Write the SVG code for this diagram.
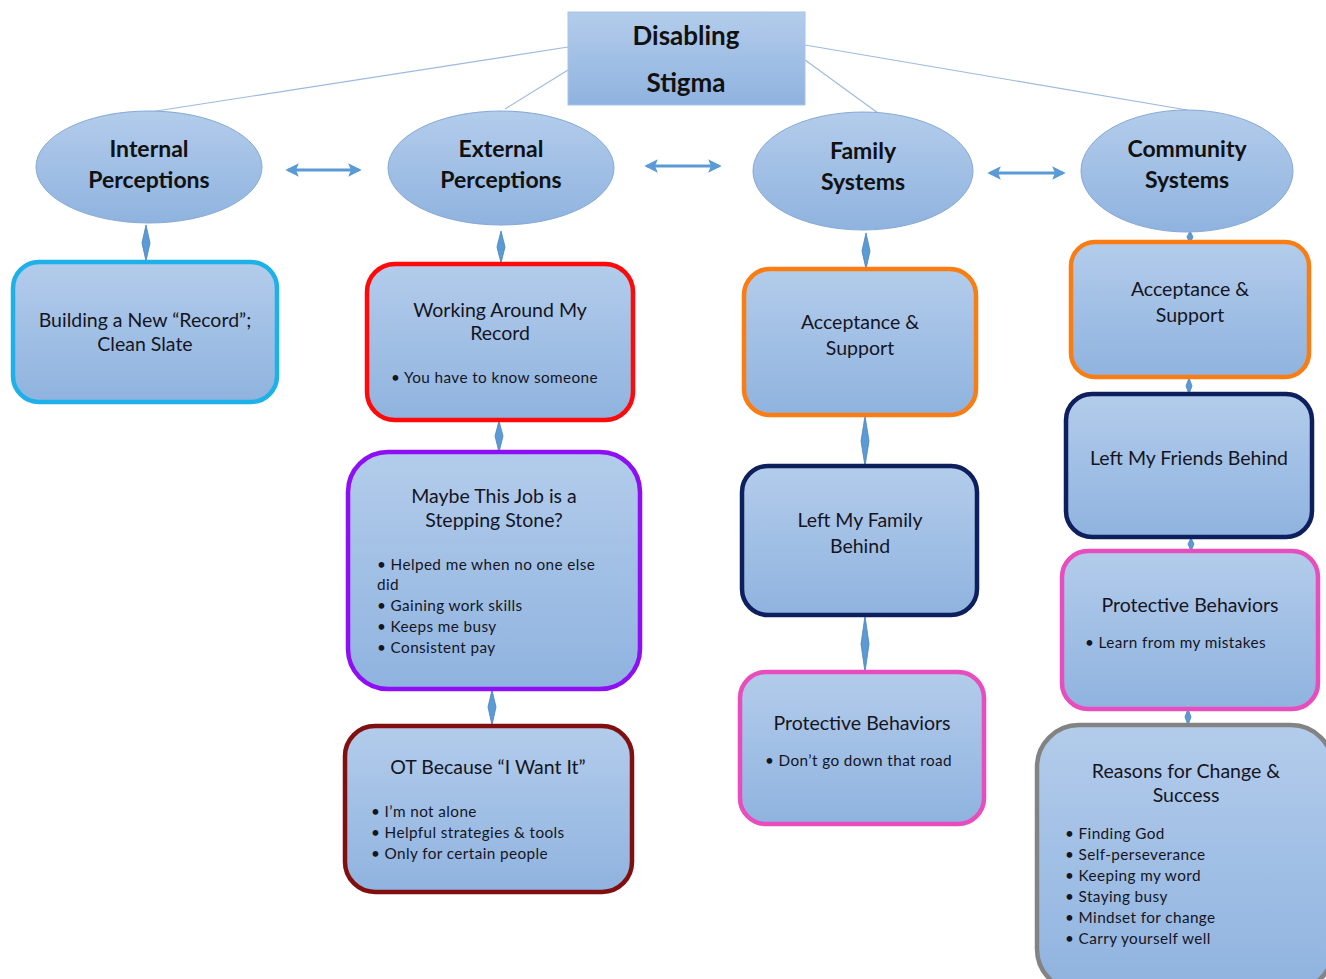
<svg xmlns="http://www.w3.org/2000/svg" width="1326" height="979" viewBox="0 0 1326 979">
<defs>
<linearGradient id="gBox" x1="0" y1="0" x2="0" y2="1">
<stop offset="0" stop-color="#B3CCEB"/>
<stop offset="1" stop-color="#8FB3DF"/>
</linearGradient>
<marker id="ah" viewBox="0 0 10 10" refX="8" refY="5" markerWidth="4.5" markerHeight="4.5" orient="auto-start-reverse" markerUnits="strokeWidth">
<path d="M0,0 L10,5 L0,10 L2,5 Z" fill="#5B9BD5"/>
</marker>
<style>
.box{fill:url(#gBox);stroke-width:4.5}
.ell{fill:url(#gBox);stroke:#86A9D6;stroke-width:1}
.ttl{font-family:Lato,"Liberation Sans",sans-serif;font-weight:bold;font-size:23px;fill:#111;text-anchor:middle}
.t{font-family:Lato,"Liberation Sans",sans-serif;font-size:19.5px;fill:#15151f;text-anchor:middle}
.b{font-family:Lato,"Liberation Sans",sans-serif;font-size:15.3px;fill:#15151f;letter-spacing:0.4px}
.ln{stroke:#9DBAE0;stroke-width:1.2;fill:none}
.dbl{stroke:#5B9BD5;stroke-width:3;fill:none;marker-start:url(#ah);marker-end:url(#ah)}
.dia{fill:#5B9BD5;stroke:#4A82B8;stroke-width:0.8}
</style>
</defs>

<g id="connectors">
<line class="ln" x1="568" y1="47" x2="150" y2="112"/>
<line class="ln" x1="568" y1="70" x2="505" y2="109"/>
<line class="ln" x1="805" y1="60" x2="878" y2="113"/>
<line class="ln" x1="805" y1="45" x2="1187" y2="110"/>
<line class="dbl" x1="288" y1="170" x2="359" y2="170"/>
<line class="dbl" x1="647" y1="166" x2="719" y2="166"/>
<line class="dbl" x1="990" y1="173" x2="1063" y2="173"/>
<path class="dia" d="M146,225 L150,243 L146,261 L142,243 Z"/>
<path class="dia" d="M501,231 L505,247 L501,263 L497,247 Z"/>
<path class="dia" d="M499,421 L503,436 L499,452 L495,436 Z"/>
<path class="dia" d="M492,690 L496,707 L492,725 L488,707 Z"/>
<path class="dia" d="M866,233 L870,251 L866,269 L862,251 Z"/>
<path class="dia" d="M865,416 L869,441 L865,466 L861,441 Z"/>
<path class="dia" d="M865,616 L869,644 L865,672 L861,644 Z"/>
<path class="dia" d="M1190,231 L1193,237 L1190,243 L1187,237 Z"/>
<path class="dia" d="M1189,378 L1192,386 L1189,394 L1186,386 Z"/>
<path class="dia" d="M1191,538 L1194,544 L1191,551 L1188,544 Z"/>
<path class="dia" d="M1188,709 L1191,717 L1188,725 L1185,717 Z"/>
</g>

<g id="root">
<rect x="568" y="12" width="237" height="93" fill="url(#gBox)" stroke="#A9C3E6" stroke-width="1"/>
<text class="ttl" x="686" y="45" style="font-size:26px">Disabling</text>
<text class="ttl" x="686" y="92" style="font-size:26px">Stigma</text>
</g>

<g id="internal">
<ellipse class="ell" cx="149" cy="167" rx="113" ry="56"/>
<text class="ttl" x="149" y="157">Internal</text>
<text class="ttl" x="149" y="188">Perceptions</text>
</g>
<g id="external">
<ellipse class="ell" cx="501" cy="168" rx="113" ry="57"/>
<text class="ttl" x="501" y="157">External</text>
<text class="ttl" x="501" y="188">Perceptions</text>
</g>
<g id="family">
<ellipse class="ell" cx="863" cy="171" rx="110" ry="59"/>
<text class="ttl" x="863" y="159">Family</text>
<text class="ttl" x="863" y="190">Systems</text>
</g>
<g id="community">
<ellipse class="ell" cx="1187" cy="171" rx="106" ry="61"/>
<text class="ttl" x="1187" y="157">Community</text>
<text class="ttl" x="1187" y="188">Systems</text>
</g>

<g id="building">
<rect class="box" x="13" y="262" width="264" height="140" rx="26" stroke="#1EB1E8"/>
<text class="t" x="145" y="327">Building a New “Record”;</text>
<text class="t" x="145" y="351">Clean Slate</text>
</g>

<g id="working">
<rect class="box" x="367" y="264" width="266" height="156" rx="28" stroke="#FF0A0A"/>
<text class="t" x="500" y="317">Working Around My</text>
<text class="t" x="500" y="340">Record</text>
<text class="b" x="391" y="383">• You have to know someone</text>
</g>

<g id="stepping">
<rect class="box" x="348" y="452" width="292" height="237" rx="40" stroke="#8F0FF5"/>
<text class="t" x="494" y="503">Maybe This Job is a</text>
<text class="t" x="494" y="527">Stepping Stone?</text>
<text class="b" x="377" y="570">• Helped me when no one else</text>
<text class="b" x="377" y="590">did</text>
<text class="b" x="377" y="611">• Gaining work skills</text>
<text class="b" x="377" y="632">• Keeps me busy</text>
<text class="b" x="377" y="653">• Consistent pay</text>
</g>

<g id="ot">
<rect class="box" x="345" y="726" width="287" height="166" rx="30" stroke="#820F0F"/>
<text class="t" x="488" y="774">OT Because “I Want It”</text>
<text class="b" x="371" y="817">• I’m not alone</text>
<text class="b" x="371" y="838">• Helpful strategies &amp; tools</text>
<text class="b" x="371" y="859">• Only for certain people</text>
</g>

<g id="fam-accept">
<rect class="box" x="744" y="269" width="232" height="146" rx="26" stroke="#FA7D14"/>
<text class="t" x="860" y="329">Acceptance &amp;</text>
<text class="t" x="860" y="355">Support</text>
</g>

<g id="fam-left">
<rect class="box" x="742" y="466" width="235" height="149" rx="26" stroke="#0E1F5E"/>
<text class="t" x="860" y="527">Left My Family</text>
<text class="t" x="860" y="553">Behind</text>
</g>

<g id="fam-protect">
<rect class="box" x="740" y="672" width="244" height="152" rx="26" stroke="#E84DBE"/>
<text class="t" x="862" y="730">Protective Behaviors</text>
<text class="b" x="765" y="766">• Don’t go down that road</text>
</g>

<g id="com-accept">
<rect class="box" x="1071" y="242" width="238" height="135" rx="24" stroke="#FA7D14"/>
<text class="t" x="1190" y="296">Acceptance &amp;</text>
<text class="t" x="1190" y="322">Support</text>
</g>

<g id="com-left">
<rect class="box" x="1066" y="394" width="246" height="143" rx="26" stroke="#0E1F5E"/>
<text class="t" x="1189" y="465">Left My Friends Behind</text>
</g>

<g id="com-protect">
<rect class="box" x="1062" y="551" width="256" height="158" rx="26" stroke="#E84DBE"/>
<text class="t" x="1190" y="612">Protective Behaviors</text>
<text class="b" x="1085" y="648">• Learn from my mistakes</text>
</g>

<g id="reasons">
<rect class="box" x="1037" y="725" width="296" height="266" rx="42" stroke="#838383"/>
<text class="t" x="1186" y="778">Reasons for Change &amp;</text>
<text class="t" x="1186" y="802">Success</text>
<text class="b" x="1065" y="839">• Finding God</text>
<text class="b" x="1065" y="860">• Self-perseverance</text>
<text class="b" x="1065" y="881">• Keeping my word</text>
<text class="b" x="1065" y="902">• Staying busy</text>
<text class="b" x="1065" y="923">• Mindset for change</text>
<text class="b" x="1065" y="944">• Carry yourself well</text>
</g>
</svg>
